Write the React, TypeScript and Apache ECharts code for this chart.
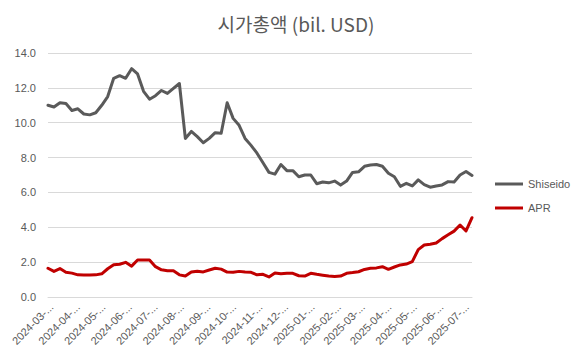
import React, { useEffect, useRef } from "react";
import * as echarts from "echarts";

const titleText = "시가총액 (bil. USD)";

const dates = [
  "2024-02-26", "2024-03-04", "2024-03-11", "2024-03-18", "2024-03-25",
  "2024-04-01", "2024-04-08", "2024-04-15", "2024-04-22", "2024-04-29",
  "2024-05-06", "2024-05-13", "2024-05-20", "2024-05-27",
  "2024-06-03", "2024-06-10", "2024-06-17", "2024-06-24",
  "2024-07-01", "2024-07-08", "2024-07-15", "2024-07-22", "2024-07-29",
  "2024-08-05", "2024-08-12", "2024-08-19", "2024-08-26",
  "2024-09-02", "2024-09-09", "2024-09-16", "2024-09-23", "2024-09-30",
  "2024-10-07", "2024-10-14", "2024-10-21", "2024-10-28",
  "2024-11-04", "2024-11-11", "2024-11-18", "2024-11-25",
  "2024-12-02", "2024-12-09", "2024-12-16", "2024-12-23", "2024-12-30",
  "2025-01-06", "2025-01-13", "2025-01-20", "2025-01-27",
  "2025-02-03", "2025-02-10", "2025-02-17", "2025-02-24",
  "2025-03-03", "2025-03-10", "2025-03-17", "2025-03-24", "2025-03-31",
  "2025-04-07", "2025-04-14", "2025-04-21", "2025-04-28",
  "2025-05-05", "2025-05-12", "2025-05-19", "2025-05-26",
  "2025-06-02", "2025-06-09", "2025-06-16", "2025-06-23", "2025-06-30",
  "2025-07-07",
];

const shiseido = [
  11.0, 10.9, 11.15, 11.1, 10.7, 10.8, 10.5, 10.45, 10.57, 11.0,
  11.5, 12.55, 12.7, 12.55, 13.1, 12.8, 11.8, 11.35, 11.55, 11.85,
  11.68, 11.97, 12.25, 9.1, 9.5, 9.2, 8.85, 9.1, 9.43, 9.4,
  11.15, 10.25, 9.85, 9.1, 8.7, 8.25, 7.7, 7.15, 7.05, 7.6,
  7.25, 7.25, 6.9, 7.0, 7.0, 6.5, 6.6, 6.55, 6.65, 6.42,
  6.65, 7.15, 7.18, 7.5, 7.57, 7.6, 7.5, 7.1, 6.9, 6.35,
  6.52, 6.37, 6.72, 6.45, 6.3, 6.37, 6.43, 6.62, 6.6, 7.0,
  7.2, 6.97,
];

const apr = [
  1.65, 1.47, 1.63, 1.42, 1.37, 1.27, 1.26, 1.26, 1.27, 1.33,
  1.62, 1.85, 1.88, 1.99, 1.77, 2.12, 2.12, 2.12, 1.74, 1.56,
  1.51, 1.5, 1.27, 1.2, 1.43, 1.48, 1.44, 1.55, 1.65, 1.6,
  1.43, 1.42, 1.47, 1.43, 1.42, 1.27, 1.3, 1.15, 1.38, 1.33,
  1.36, 1.36, 1.22, 1.2, 1.36, 1.3, 1.25, 1.2, 1.17, 1.2,
  1.36, 1.4, 1.45, 1.58, 1.65, 1.67, 1.74, 1.59, 1.72, 1.84,
  1.89, 2.03, 2.72, 2.98, 3.03, 3.1, 3.35, 3.57, 3.78, 4.13,
  3.79, 4.55,
];

const seriesNames = ["Shiseido", "APR"];
const seriesColors = ["#5a5a5a", "#c00000"];
const yTicks = { min: 0, max: 14, interval: 2 };

export default function App() {
  const ref = useRef<HTMLDivElement>(null);

  useEffect(() => {
    if (!ref.current) return;
    const chart = echarts.init(ref.current, undefined, { renderer: "svg" });
    const times = dates.map((d) => Date.parse(d));
    const textColor = "#595959";
    const font = '"Liberation Sans", Arial, sans-serif';
    const day = 86400000;
    chart.setOption({
      animation: false,
      useUTC: true,
      backgroundColor: "#ffffff",
      title: {
        text: titleText,
        left: 291,
        textAlign: "center",
        top: 9,
        textStyle: {
          color: textColor,
          fontSize: 19,
          fontWeight: "normal",
          fontFamily: '"Noto Sans CJK KR", sans-serif',
        },
      },
      legend: {
        orient: "vertical",
        left: 495,
        top: 177,
        padding: 0,
        icon: "rect",
        itemWidth: 28,
        itemHeight: 3,
        itemGap: 10,
        textStyle: {
          color: textColor,
          fontSize: 11,
          lineHeight: 14,
          fontFamily: font,
          width: 60,
          overflow: "none",
        },
        data: seriesNames,
      },
      grid: { left: 48, right: 104, top: 53, bottom: 56, containLabel: false },
      xAxis: {
        type: "time",
        min: times[0],
        max: times[times.length - 1],
        splitNumber: 17,
        minInterval: 28 * day,
        maxInterval: 31 * day,
        axisLine: { show: true, lineStyle: { color: "#d9d9d9", width: 1 } },
        axisTick: { show: false },
        splitLine: { show: false },
        axisLabel: {
          rotate: 45,
          color: textColor,
          fontSize: 11,
          fontFamily: font,
          margin: 8,
          hideOverlap: false,
          showMinLabel: false,
          showMaxLabel: false,
          formatter: (v: number) => {
            const d = new Date(v);
            const m = String(d.getUTCMonth() + 1).padStart(2, "0");
            return `${d.getUTCFullYear()}-${m}-...`;
          },
        },
      },
      yAxis: {
        type: "value",
        min: yTicks.min,
        max: yTicks.max,
        interval: yTicks.interval,
        axisLine: { show: false },
        axisTick: { show: false },
        splitLine: { lineStyle: { color: "#d9d9d9", width: 1 } },
        axisLabel: {
          color: textColor,
          fontSize: 11,
          fontFamily: font,
          margin: 12,
          formatter: (v: number) => v.toFixed(1),
        },
      },
      series: [shiseido, apr].map((vals, i) => ({
        name: seriesNames[i],
        type: "line",
        symbol: "none",
        data: vals.map((v, j) => [times[j], v]),
        lineStyle: { color: seriesColors[i], width: 3, cap: "round", join: "round" },
        itemStyle: { color: seriesColors[i] },
      })),
    });
    return () => chart.dispose();
  }, []);

  return (
    <div
      ref={ref}
      style={{ position: "absolute", left: 0, top: 0, width: 576, height: 353 }}
    />
  );
}
